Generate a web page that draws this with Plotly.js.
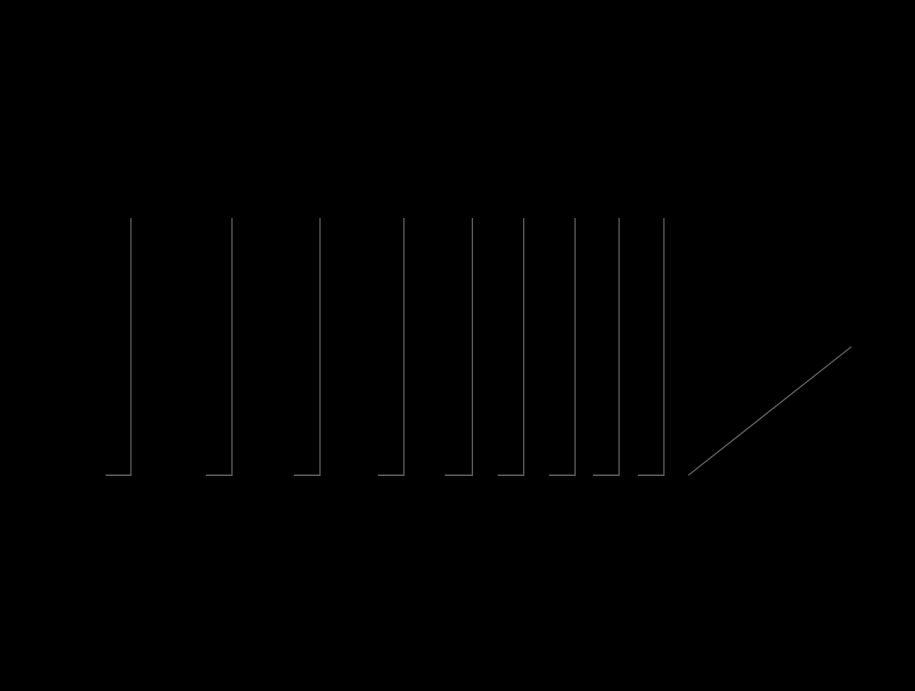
<!DOCTYPE html>
<html>
<head>
<meta charset="utf-8">
<script src="https://cdn.plot.ly/plotly-3.0.1.min.js"></script>
<style>
  html, body { margin: 0; padding: 0; background: #000; }
  #chart { width: 915px; height: 691px; }
</style>
</head>
<body>
<div id="chart"></div>
<script>
// step segments: foot starts at footX, rises at riseX
const footX = [5.6, 17.9, 28.7, 39.0, 47.2, 53.7, 60.0, 65.4, 70.9];
const riseX = [8.7, 21.1, 31.9, 42.2, 50.6, 56.9, 63.2, 68.6, 74.1];
const riseTop = [120, 120, 120, 120, 120, 120, 120, 120, 120];
const baseY = 0;

// last segment, a straight slope
const slopeX = [77.1, 97.1];
const slopeY = [0, 50];

// one trace, segments split with nulls
let stepX = [], stepY = [];
for (let i = 0; i < riseX.length; i++) {
    stepX.push(footX[i], riseX[i], riseX[i], null);
    stepY.push(baseY, baseY, riseTop[i], null);
}

let lineColor = 'rgb(95,95,95)';

let data = [
    {
        type: 'scatter', mode: 'lines',
        x: stepX, y: stepY,
        line: {color: lineColor, width: 1.3},
        connectgaps: false,
        hoverinfo: 'skip'
    },
    {
        type: 'scatter', mode: 'lines',
        x: slopeX, y: slopeY,
        line: {color: lineColor, width: 1.3},
        hoverinfo: 'skip'
    }
];

let layout = {
    width: 915, height: 691,
    paper_bgcolor: '#000', plot_bgcolor: '#000',
    showlegend: false,
    margin: {l: 60, r: 40, t: 218, b: 190},
    xaxis: {range: [0, 100], visible: false, fixedrange: true},
    yaxis: {range: [-10, 100], visible: false, fixedrange: true}
};

Plotly.newPlot('chart', data, layout, {displayModeBar: false, staticPlot: true});
</script>
</body>
</html>
